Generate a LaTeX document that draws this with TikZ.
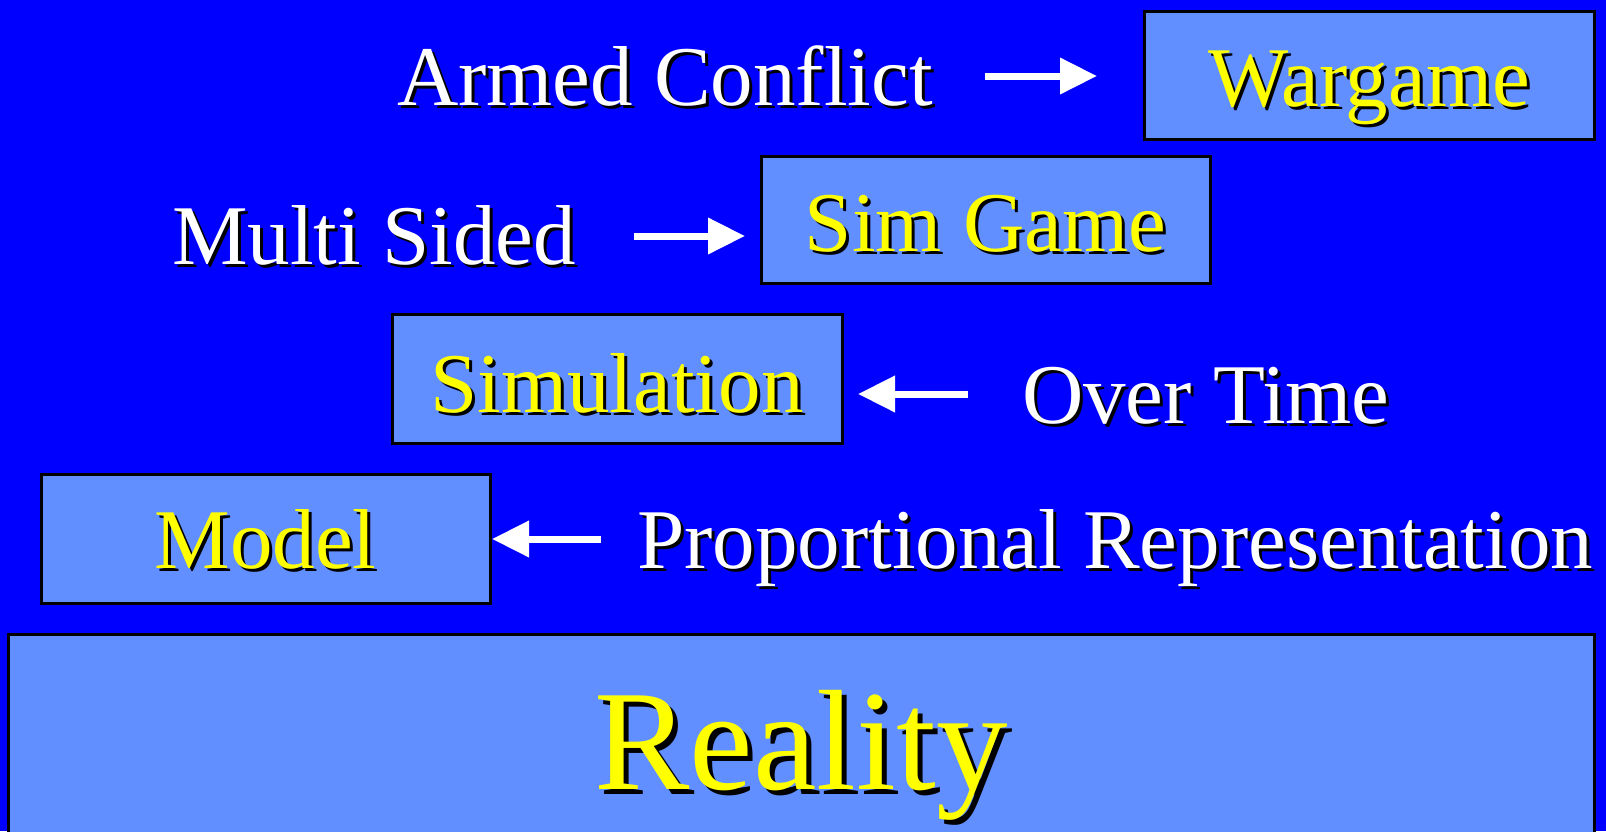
\documentclass[tikz,border=0pt]{standalone}
\usepackage{fontspec}
\setmainfont{Liberation Serif}
\usetikzlibrary{arrows.meta}
\definecolor{slidebg}{RGB}{0,0,255}
\definecolor{boxfill}{RGB}{97,143,255}
\definecolor{titleyellow}{RGB}{255,255,0}

% text with a black drop shadow: name, anchor, position, colour, font style, text, shadow offset
\newcommand\shadowtext[7]{%
  \node[wordlabel, #5, text=black, anchor=#2] (#1-shadow) at ([shift={(#7,#7)}]#3) {#6};
  \node[wordlabel, #5, text=#4, anchor=#2] (#1) at (#3) {#6};
}

\begin{document}
\begin{tikzpicture}[x=1pt,y=-1pt,
  levelbox/.style={draw=black, line width=3pt, fill=boxfill, inner sep=0pt},
  wordlabel/.style={inner sep=0pt, outer sep=0pt},
  normalsize/.style={font=\fontsize{85}{90}\selectfont},
  hugesize/.style={font=\fontsize{143}{150}\selectfont},
  flow/.style={draw=white, line width=7pt, -{Triangle[length=37pt,width=35pt]}}]

% background
\fill[slidebg] (0,0) rectangle (1606,831);
\useasboundingbox (0,0) rectangle (1606,831);

% level boxes
\node[levelbox, minimum width=450pt, minimum height=128pt] (war) at (1369,75) {};
\node[levelbox, minimum width=449pt, minimum height=127pt] (simgame) at (985.5,219.5) {};
\node[levelbox, minimum width=450pt, minimum height=129pt] (sim) at (617,378.5) {};
\node[levelbox, minimum width=449pt, minimum height=129pt] (model) at (265.5,538.5) {};
\node[levelbox, minimum width=1586pt, minimum height=210pt] (real) at (801,739) {};

% box titles
\shadowtext{wartxt}{base}{1369,106}{titleyellow}{normalsize}{Wargame}{3}
\shadowtext{simgametxt}{base}{985.5,251}{titleyellow}{normalsize}{Sim Game}{3}
\shadowtext{simtxt}{base}{617,412}{titleyellow}{normalsize}{Simulation}{3}
\shadowtext{modeltxt}{base}{265.5,568}{titleyellow}{normalsize}{Model}{3}
\shadowtext{realtxt}{base}{801,789}{titleyellow}{hugesize}{Reality}{5}

% qualifiers
\shadowtext{armed}{base west}{397,105}{white}{normalsize}{Armed Conflict}{3}
\shadowtext{multi}{base west}{172,264}{white}{normalsize}{Multi Sided}{3}
\shadowtext{overtime}{base west}{1022,423}{white}{normalsize}{Over Time}{3}
\shadowtext{prop}{base west}{637,568}{white}{normalsize}{Proportional Representation}{3}

% arrows from qualifier to level
\coordinate (a1) at ([yshift=29pt]armed.base east);
\coordinate (a2) at ([yshift=28pt]multi.base east);
\coordinate (a3) at ([yshift=29pt]overtime.base west);
\coordinate (a4) at ([yshift=29pt]prop.base west);
\draw[flow, shorten <=52pt, shorten >=45.5pt] (a1) -- (a1 -| war.west);
\draw[flow, shorten <=58pt, shorten >=14.5pt] (a2) -- (a2 -| simgame.west);
\draw[flow, shorten <=54pt, shorten >=14.5pt] (a3) -- (a3 -| sim.east);
\draw[flow, shorten <=36pt, shorten >=0.5pt] (a4) -- (a4 -| model.east);
\end{tikzpicture}
\end{document}
